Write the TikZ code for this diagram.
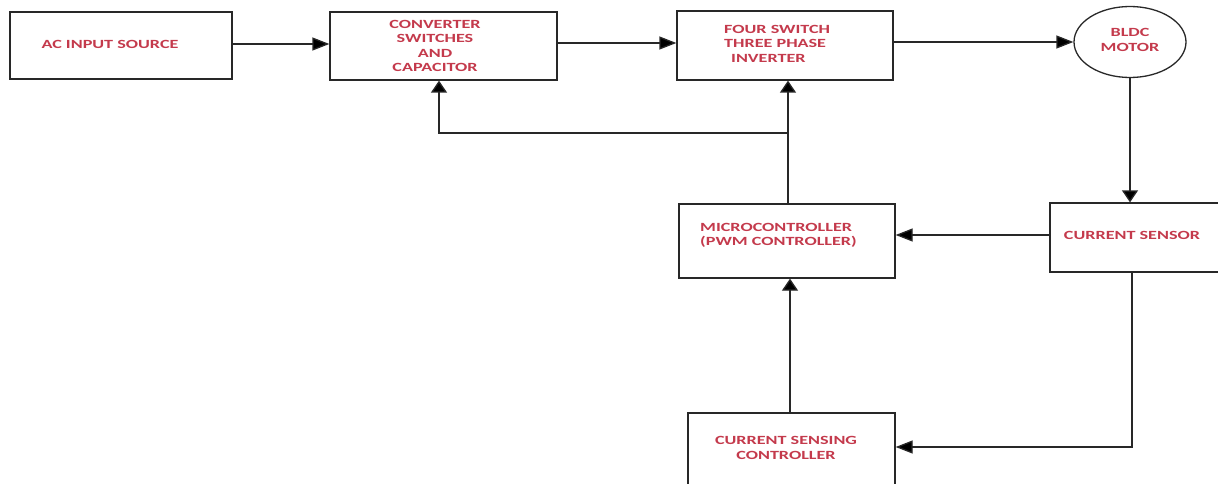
\documentclass[tikz,border=0pt]{standalone}
\usepackage{fontspec}
\newfontfamily\lblfont{Carlito}[FakeStretch=1.45]
\usetikzlibrary{arrows.meta,shapes.geometric,fit}
\definecolor{txtred}{RGB}{196,58,76}
\definecolor{ln}{RGB}{40,40,40}
\tikzset{
  box/.style={draw=ln, line width=1.3pt, inner sep=0pt, rectangle},
  lbl/.style={font=\lblfont\bfseries\fontsize{12.5}{14.5}\selectfont, text=txtred, inner sep=0pt},
  harr/.style={draw=ln, line width=1.3pt, -{Triangle[length=17pt,width=13pt,fill=black]}},
  varr/.style={draw=ln, line width=1.3pt, -{Triangle[length=12pt,width=16pt,fill=black]}}
}
\begin{document}
\begin{tikzpicture}[x=1pt,y=-1pt]
\useasboundingbox[fill=white] (0,0) rectangle (1218,484);
% boxes
\node[box, fit={(10,12) (232,79)}] (ac) {};
\node[box, fit={(330,12) (557,80)}] (conv) {};
\node[box, fit={(677,11) (893,80)}] (inv) {};
\node[draw=ln, line width=1.3pt, ellipse, minimum width=112pt, minimum height=71pt, inner sep=0pt] (motor) at (1130,42) {};
\node[box, fit={(1050,203) (1224,272)}] (sensor) {};
\node[box, fit={(679,204) (895,278)}] (micro) {};
\node[box, fit={(688,413) (895,492)}] (csc) {};
% texts
\node[lbl] (acT) at (110,44) {AC INPUT SOURCE};
\node[lbl, align=center] (convT) at (435,46) {CONVERTER\\SWITCHES\\AND\\CAPACITOR};
\node[lbl, align=left, anchor=west] (invT) at (724,43.5) {FOUR SWITCH\\THREE PHASE\\\hspace*{7pt}INVERTER};
\node[lbl, align=center] (motorT) at (1130,40) {BLDC\\MOTOR};
\node[lbl, align=left, anchor=west] (microT) at (700,235.5) {MICROCONTROLLER\\(PWM CONTROLLER)};
\node[lbl] (sensT) at (1132,235) {CURRENT SENSOR};
\node[lbl, align=center] (cscT) at (786,448) {CURRENT SENSING\\CONTROLLER};
% connectors
\draw[harr] (ac.east |- 0,44) -- (conv.west |- 0,44);
\draw[harr] (conv.east |- 0,43) -- (inv.west |- 0,43);
\draw[harr] (inv.east |- motor.west) -- (motor.west);
\draw[varr] (motor.south) -- (motor.south |- sensor.north);
\draw[harr] (sensor.west |- 0,235) -- (micro.east |- 0,235);
\draw[varr] (micro.north -| 788,0) -- (inv.south -| 788,0);
\coordinate (br) at (788,133);
\draw[varr] (br) -| (conv.south -| 439,0);
\draw[harr] (sensor.south -| 1132,0) |- (csc.east |- 0,447);
\draw[varr] (csc.north -| 790,0) -- (micro.south -| 790,0);
\end{tikzpicture}
\end{document}
